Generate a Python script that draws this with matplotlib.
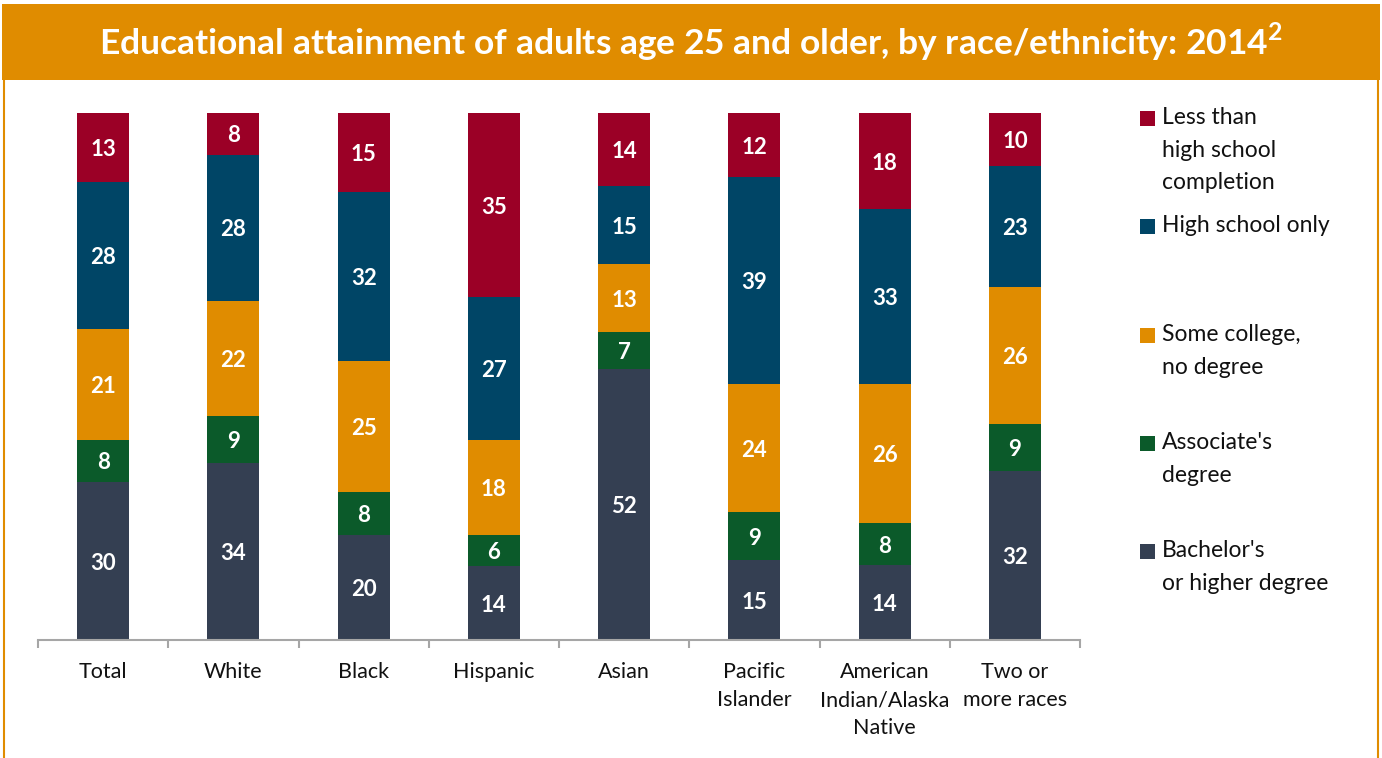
import numpy as np
import matplotlib.pyplot as plt
from matplotlib.patches import Rectangle
from matplotlib.lines import Line2D

plt.rcParams['font.family'] = ['Lato', 'DejaVu Sans']

groups = ["Total", "White", "Black", "Hispanic", "Asian", "Pacific\nIslander",
          "American\nIndian/Alaska\nNative", "Two or\nmore races"]
bachelor = [30, 34, 20, 14, 52, 15, 14, 32]
associate = [8, 9, 8, 6, 7, 9, 8, 9]
some_college = [21, 22, 25, 18, 13, 24, 26, 26]
hs_only = [28, 28, 32, 27, 15, 39, 33, 23]
less_hs = [13, 8, 15, 35, 14, 12, 18, 10]

labels = ["Bachelor's\nor higher degree", "Associate's\ndegree", "Some college,\nno degree",
          "High school only", "Less than\nhigh school\ncompletion"]
colors = ["#343f52", "#0b5a2a", "#e08c00", "#004566", "#9b0026"]

W, H = 1382, 758
fig = plt.figure(figsize=(W / 100, H / 100), dpi=100)

# title band and side borders
fig.patches.append(Rectangle((2 / W, 1 - 80 / H), 1378 / W, 76 / H, transform=fig.transFigure,
                             facecolor="#e08c00", edgecolor="none", zorder=0))
for xx in [4, 1378]:
    fig.lines.append(Line2D([xx / W, xx / W], [0, 1 - 80 / H], transform=fig.transFigure,
                            color="#e08c00", lw=1.5))
fig.text(0.5, 1 - 42 / H, "Educational attainment of adults age 25 and older, by race/ethnicity: 2014$^{\\mathregular{2}}$",
         ha="center", va="center", color="white", fontsize=25.5, fontweight="bold")

ax = fig.add_axes([38 / W, 118 / H, (1080 - 38) / W, 527 / H])
series = np.array([bachelor, associate, some_college, hs_only, less_hs], dtype=float)
shares = series / series.sum(axis=0) * 100
x = np.arange(len(groups))
bottom = np.zeros(len(groups))
for vals, raw, c in zip(shares, series, colors):
    ax.bar(x, vals, 0.4, bottom=bottom, color=c)
    for i in range(len(groups)):
        ax.text(x[i], bottom[i] + vals[i] / 2 - 0.4, f"{raw[i]:.0f}", ha="center", va="center",
                color="white", fontsize=16, fontweight="bold")
    bottom += vals

ax.set_xlim(-0.5, len(groups) - 0.5)
ax.set_ylim(0, 100)
for s in ["top", "right", "left"]:
    ax.spines[s].set_visible(False)
ax.spines["bottom"].set_color("#a6a6a6")
ax.spines["bottom"].set_linewidth(1.5)
ax.set_yticks([])
ax.set_xticks(x)
ax.set_xticklabels(groups, fontsize=15.5, linespacing=1.5, color="#111111")
ax.tick_params(axis="x", which="major", length=0, pad=16)
ax.set_xticks(np.arange(-0.5, len(groups)), minor=True)
ax.tick_params(axis="x", which="minor", length=6, width=1.5, color="#a6a6a6", direction="out")

# legend
leg_y = [551, 443, 335, 226, 118]
for lab, c, yy in zip(labels, colors, leg_y):
    fig.patches.append(Rectangle((1140 / W, 1 - (yy + 8) / H), 15 / W, 15 / H,
                                 transform=fig.transFigure, facecolor=c, edgecolor="none"))
    fig.text(1162 / W, 1 - (yy - 11) / H, lab, ha="left", va="top", fontsize=16.5,
             linespacing=1.68, color="#111111")

fig.savefig("out.png", dpi=100)
